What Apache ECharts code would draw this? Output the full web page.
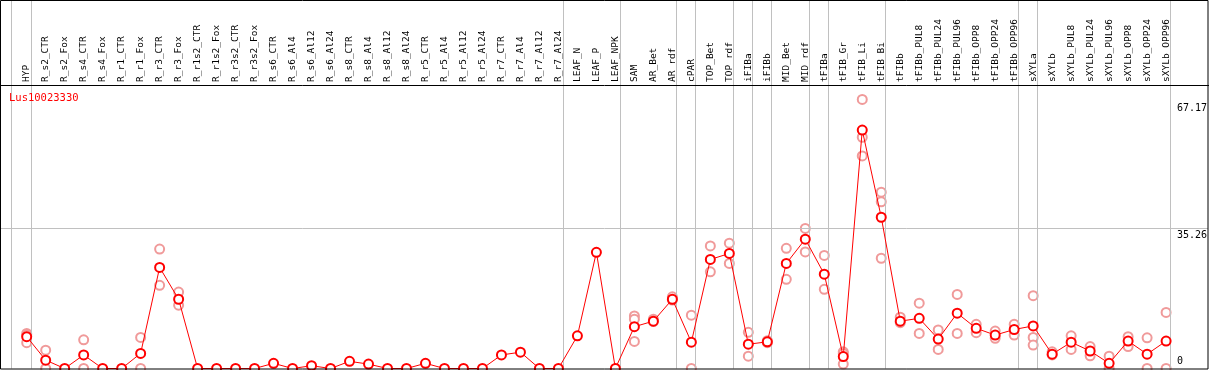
<!DOCTYPE html>
<html>
<head>
<meta charset="utf-8">
<script src="https://cdn.jsdelivr.net/npm/echarts@6.0.0/dist/echarts.min.js"></script>
<style>
html,body{margin:0;padding:0;background:#fff;}
#chart{width:1209px;height:370px;}
</style>
</head>
<body>
<div id="chart"></div>
<script>
const title = "Lus10023330";
const categories = ["HYP","R_s2_CTR","R_s2_Fox","R_s4_CTR","R_s4_Fox","R_r1_CTR","R_r1_Fox","R_r3_CTR","R_r3_Fox","R_r1s2_CTR","R_r1s2_Fox","R_r3s2_CTR","R_r3s2_Fox","R_s6_CTR","R_s6_Al4","R_s6_Al12","R_s6_Al24","R_s8_CTR","R_s8_Al4","R_s8_Al12","R_s8_Al24","R_r5_CTR","R_r5_Al4","R_r5_Al12","R_r5_Al24","R_r7_CTR","R_r7_Al4","R_r7_Al12","R_r7_Al24","LEAF_N","LEAF_P","LEAF_NPK","SAM","AR_Bet","AR_rdf","cPAR","TOP_Bet","TOP_rdf","iFIBa","iFIBb","MID_Bet","MID_rdf","tFIBa","tFIB_Gr","tFIB_Li","tFIB_Bi","tFIBb","tFIBb_PUL8","tFIBb_PUL24","tFIBb_PUL96","tFIBb_OPP8","tFIBb_OPP24","tFIBb_OPP96","sXYLa","sXYLb","sXYLb_PUL8","sXYLb_PUL24","sXYLb_PUL96","sXYLb_OPP8","sXYLb_OPP24","sXYLb_OPP96"];
const means = [8.0,2.1,0,3.4,0,0,3.8,25.4,17.4,0,0,0,0,1.3,0,0.7,0,1.8,1.1,0,0,1.3,0,0,0,3.4,4.1,0,0,8.2,29.2,0,10.5,11.9,17.4,6.6,27.4,28.9,6.1,6.7,26.4,32.5,23.7,3.0,59.9,38.0,11.9,12.6,7.4,13.9,10.1,8.4,9.8,10.7,3.6,6.6,4.4,1.3,6.9,3.6,6.9];
const rep1 = [8.8,4.6,null,7.2,null,null,7.8,30.0,19.2,null,null,null,null,null,null,null,null,null,null,null,null,null,null,null,null,null,null,null,null,null,null,null,13.2,12.4,18.0,13.4,30.8,31.5,9.1,7.0,30.2,35.2,28.4,4.2,67.6,44.3,12.9,16.4,9.7,18.6,11.1,9.4,11.1,18.3,4.2,8.2,5.5,3.1,8.0,7.7,14.1];
const rep2 = [8.4,0,null,0,null,null,0,20.9,15.9,null,null,null,null,null,null,null,null,null,null,null,null,null,null,null,null,null,null,null,null,null,null,null,12.4,11.8,17.2,0,24.3,26.4,3.1,6.5,22.4,29.3,19.9,3.8,58.1,41.9,11.5,8.8,4.8,8.8,9.0,7.6,8.4,7.8,3.4,4.8,3.2,0,5.5,0,0];
const rep3 = [6.5,null,null,null,null,null,null,null,null,null,null,null,null,null,null,null,null,null,null,null,null,null,null,null,null,null,null,null,null,null,null,null,6.8,null,null,null,null,null,null,null,null,null,null,1.1,53.4,27.7,null,null,null,null,null,null,null,5.9,null,null,null,null,null,null,null];
const groupEnds = [0,28,31,34,35,37,38,39,41,42,45,52,53,60];
const tickValues = [0,35.26,67.17];
const tickLabels = ["0","35.26","67.17"];

const STEP = 18.99, X0 = 26.7, LEFT = 1, RIGHT = 1208, ZERO_Y = 368.5, TOP_Y = 85, PXU = 3.98;
const plotLeft = X0 - STEP/2;
const plotWidth = STEP * categories.length;
const yMax0 = (ZERO_Y - TOP_Y) / PXU;
const yMax1 = ZERO_Y / PXU;
const xMin1 = (LEFT - X0) / STEP, xMax1 = (RIGHT - X0) / STEP;
const xLabel1 = (1177 - X0) / STEP;
const mono = "DejaVu Sans Mono";

const sepLines = [{xAxis: (11.5 - X0)/STEP}].concat(groupEnds.map(i => ({xAxis: i + (31 - X0)/STEP})));
// the gridline at the middle tick spans the whole width
const gridLines = [{yAxis: tickValues[1]}];
// tick labels: invisible short segments near the right edge carrying the label at their start
const tickMarks = tickValues.map((v, k) => [
  {coord: [xLabel1, v], label: {show: true, formatter: tickLabels[k], position: k === 0 ? 'insideStartTop' : 'insideStartBottom',
     color: '#000', fontFamily: mono, fontSize: 10, distance: [0, 2], align: 'left'}},
  {coord: [xMax1, v]}
]);

const repStyle = (d) => ({
  type: 'line', xAxisIndex: 0, yAxisIndex: 0, data: d, symbol: 'emptyCircle', symbolSize: 9,
  lineStyle: {opacity: 0}, itemStyle: {color: '#f09a9a', borderColor: '#f09a9a', borderWidth: 1.2},
  connectNulls: false, silent: true, z: 3, animation: false
});

const chart = echarts.init(document.getElementById('chart'), null, {renderer: 'canvas'});
chart.setOption({
  animation: false,
  backgroundColor: '#fff',
  title: {text: title, left: 4, top: 88, textStyle: {color: '#ff0000', fontFamily: mono, fontSize: 10.5, fontWeight: 'normal'}},
  graphic: [
    {type: 'rect', shape: {x: 0.5, y: 0.5, width: 1207.5, height: 368.5}, style: {fill: null, stroke: '#000', lineWidth: 1}, z: 100, silent: true},
    {type: 'line', shape: {x1: 0, y1: 85.5, x2: 1209, y2: 85.5}, style: {stroke: '#000', lineWidth: 1}, z: 100, silent: true}
  ],
  grid: [
    {left: plotLeft, top: TOP_Y, width: plotWidth, height: ZERO_Y - TOP_Y, containLabel: false},
    {left: LEFT, top: 0, width: RIGHT - LEFT, height: ZERO_Y, containLabel: false}
  ],
  xAxis: [
    {gridIndex: 0, type: 'category', position: 'top', data: categories, boundaryGap: true,
     axisLine: {show: false}, axisTick: {show: false}, splitLine: {show: false},
     axisLabel: {rotate: 90, interval: 0, margin: 3, color: '#000', fontFamily: mono, fontSize: 9.5}},
    {gridIndex: 1, type: 'value', min: xMin1, max: xMax1, show: false}
  ],
  yAxis: [
    {gridIndex: 0, type: 'value', min: 0, max: yMax0, show: false},
    {gridIndex: 1, type: 'value', min: 0, max: yMax1, show: false}
  ],
  series: [
    {type: 'scatter', xAxisIndex: 1, yAxisIndex: 1, data: [], silent: true, z: 1,
     markLine: {silent: true, symbol: ['none','none'], animation: false,
       label: {show: false}, lineStyle: {color: '#c0c0c0', width: 1, type: 'solid'},
       data: sepLines.concat(gridLines)}},
    {type: 'scatter', xAxisIndex: 1, yAxisIndex: 1, data: [], silent: true, z: 1,
     markLine: {silent: true, symbol: ['none','none'], animation: false,
       lineStyle: {color: 'rgba(0,0,0,0)', width: 1}, data: tickMarks}},
    repStyle(rep1), repStyle(rep2), repStyle(rep3),
    {type: 'line', xAxisIndex: 0, yAxisIndex: 0, data: means, symbol: 'emptyCircle', symbolSize: 9,
     lineStyle: {color: '#ff0000', width: 1}, itemStyle: {color: '#ff0000', borderColor: '#ff0000', borderWidth: 1.8},
     z: 5, silent: true, animation: false}
  ]
});
</script>
</body>
</html>
